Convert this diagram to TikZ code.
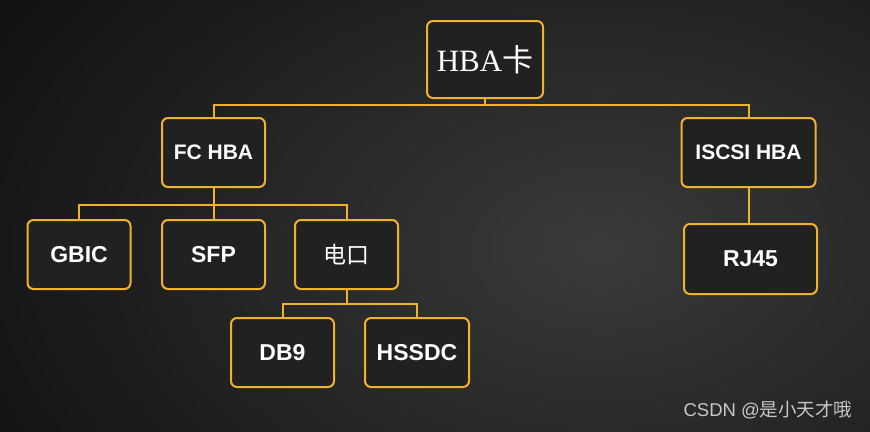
\documentclass[tikz,border=0pt]{standalone}
\usepackage{fontspec}
\setmainfont{Liberation Sans}
\newfontfamily\hbafont{Liberation Serif}
\newfontfamily\cjk{Noto Sans CJK SC}
\usetikzlibrary{positioning}
\definecolor{gold}{RGB}{240,178,42}
\definecolor{boxfill}{RGB}{33,33,33}
\definecolor{bgin}{RGB}{58,58,58}
\definecolor{bgout}{RGB}{17,17,17}

\begin{document}
\begin{tikzpicture}[x=1pt,y=-1pt,node distance=102pt,
                    card/.style={draw=gold,fill=boxfill,line width=2pt,rounded corners=6pt,
                                 text=white,font=\bfseries\fontsize{23}{25}\selectfont,
                                 minimum width=103pt,minimum height=69pt,inner sep=0pt},
                    wide/.style={card,minimum width=134pt},
                    link/.style={draw=gold,line width=2pt}]

  \useasboundingbox (0,0) rectangle (870,431);
  \begin{scope}
    \clip (0,0) rectangle (870,431);
    \shade[inner color=bgin,outer color=bgout] (-100,-200) rectangle (1300,700);
  \end{scope}

  \node[card,minimum width=116pt,minimum height=77pt,
        font=\hbafont\fontsize{31}{33}\selectfont] (A) at (485,59.5) {HBA{\cjk 卡}};
  \node[card,font=\bfseries\fontsize{21}{23}\selectfont] (B) at (213.5,152.5) {FC HBA};
  \node[wide,font=\bfseries\fontsize{21}{23}\selectfont] (C) at (748.5,152.5) {ISCSI HBA};
  \node[card] (E) [below of=B] {SFP};
  \node[card] (D) [left of=E, node distance=134.5pt] {GBIC};
  \node[card,font=\fontsize{23}{25}\selectfont] (F) [right of=E, node distance=133pt] {\cjk 电口};
  \node[card] (G) [below of=F, node distance=98pt, xshift=-64pt] {DB9};
  \node[card,minimum width=104pt] (H) [below of=F, node distance=98pt, xshift=70.5pt] {HSSDC};
  \node[wide,minimum width=133pt,minimum height=70pt] (J) [below of=C, node distance=106.5pt, xshift=2pt] {RJ45};

  \draw[link] (A.south) -- ++(0,6) -| (B.north)
              (A.south) -- ++(0,6) -| (C.north);
  \draw[link] (B.south) -- ++(0,17) -| (D.north)
              (B.south) -- (E.north)
              (B.south) -- ++(0,17) -| (F.north);
  \draw[link] (F.south) -- ++(0,14) -| (G.north)
              (F.south) -- ++(0,14) -| (H.north);
  \draw[link] (C.south) -- (C.south |- J.north);

  \node[text=white!78!black,font=\fontsize{18.5}{20}\selectfont] (csdn) at (768,410) {CSDN @{\cjk 是小天才哦}};
\end{tikzpicture}
\end{document}
